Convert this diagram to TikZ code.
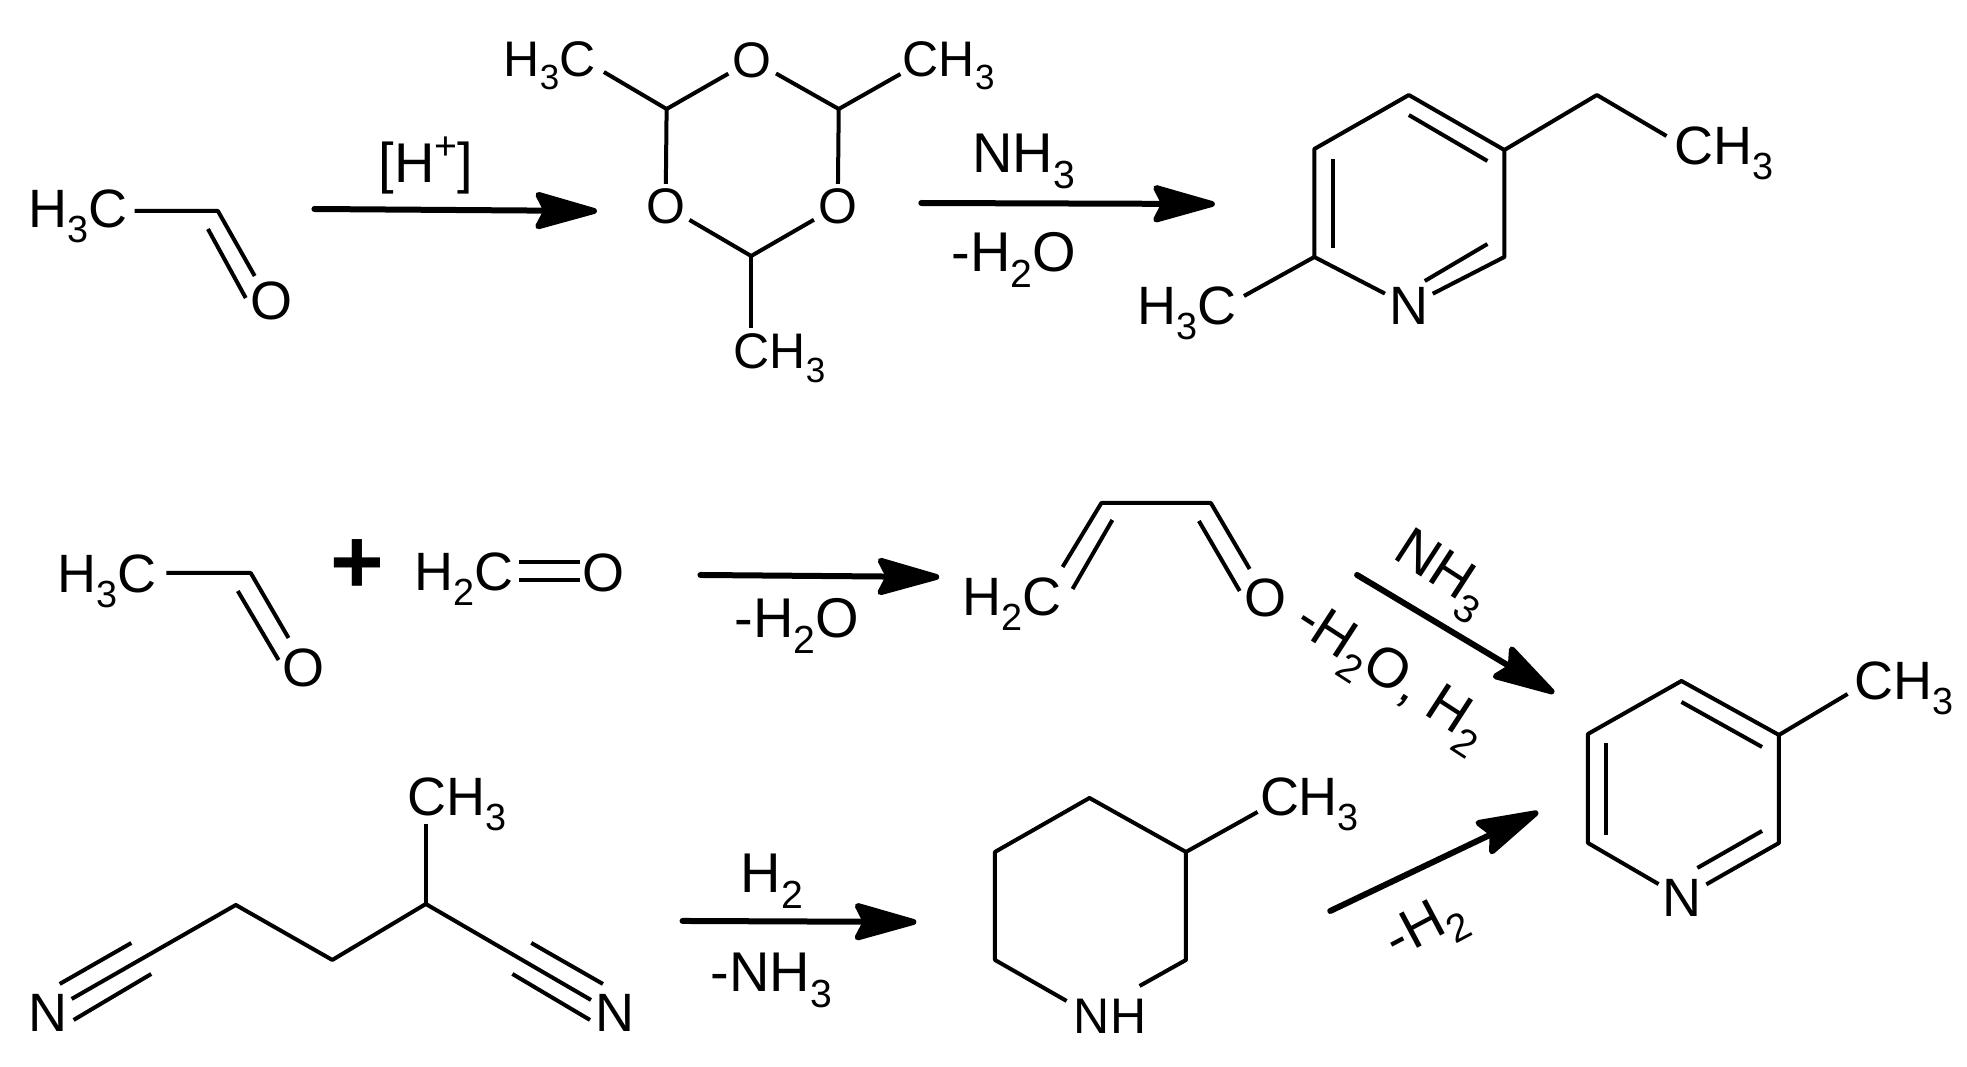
\documentclass[tikz,border=0pt]{standalone}
\usepackage{fontspec}
\setmainfont{Liberation Sans}
\usetikzlibrary{arrows.meta}
\newcommand{\dn}[1]{\raisebox{-0.27em}{\scalebox{0.7}{#1}}}
\newcommand{\up}[1]{\raisebox{0.42em}{\scalebox{0.7}{#1}}}
\tikzset{
	bond/.style={line width=2pt,line join=round},
	react/.style={line width=3pt,line cap=round,-{Stealth[length=36pt,width=20pt,inset=5pt,round]}},
	atom/.style={inner sep=2pt,font=\fontsize{27}{32}\selectfont},
	group/.style={inner sep=0pt,anchor=base west,font=\fontsize{27}{32}\selectfont},
	agent/.style={inner sep=0pt,anchor=base west,font=\fontsize{28}{34}\selectfont},
	tilted/.style={inner sep=0pt,font=\fontsize{28}{34}\selectfont},
	ring/.style={font=\fontsize{25}{30}\selectfont}
}
\begin{document}
\begin{tikzpicture}[x=0.4975pt,y=-0.5pt]
	\useasboundingbox (0,0) rectangle (1977,1067);
	% acetaldehyde, top row
	\node[group] (mea) at (28,228) {H\dn{3}C};
	\node[atom] (oa) at (273,301) {O};
	\coordinate (ca) at (219,211);
	\coordinate (oa1) at (256,276);
	\coordinate (oa2) at (209,229);
	\coordinate (oa3) at (247,298);
	\draw[bond] ([shift={(7,-17)}]mea.base east)--(ca)--(oa1);
	\draw[bond] (oa2)--(oa3);
	% paraldehyde
	\node[group,ring] (meb) at (506,76) {H\dn{3}C};
	\node[group,ring] (mec) at (907,76) {CH\dn{3}};
	\node[group,ring] (med) at (737,369) {CH\dn{3}};
	\node[atom,ring] (ob) at (756,60) {O};
	\node[atom,ring] (oc) at (669,206) {O};
	\node[atom,ring] (od) at (842,206) {O};
	\coordinate (cb) at (670,109);
	\coordinate (cc) at (843,109);
	\coordinate (cd) at (755,256);
	\draw[bond] ([shift={(8,-4)}]meb.base east)--(cb)--(ob)--(cc)--([shift={(-2,-2)}]mec.base west);
	\draw[bond] (cb)--(oc)--(cd)--(od)--(cc);
	\draw[bond] (cd)--([shift={(18,-41)}]med.base west);
	% 5-ethyl-2-methylpyridine
	\node[group] (mee) at (1143,325) {H\dn{3}C};
	\node[group] (mef) at (1683,165) {CH\dn{3}};
	\node[atom] (na) at (1416,306) {N};
	\coordinate (pa1) at (1416,95);
	\coordinate (pa2) at (1512,150);
	\coordinate (pa3) at (1512,257);
	\coordinate (pa4) at (1321,257);
	\coordinate (pa5) at (1321,149);
	\coordinate (ea) at (1605,95);
	\coordinate (ia1) at (1416,115);
	\coordinate (ia2) at (1495,161);
	\coordinate (ia3) at (1340,159);
	\coordinate (ia4) at (1340,248);
	\coordinate (ia5) at (1495,244);
	\coordinate (ia6) at (1432,281);
	\draw[bond] (na)--(pa4)--(pa5)--(pa1)--(pa2)--(pa3)--(na);
	\draw[bond] (pa2)--(ea)--([shift={(-8,-29)}]mef.base west);
	\draw[bond] (pa4)--([shift={(7,-29)}]mee.base east);
	\draw[bond] (ia1)--(ia2);
	\draw[bond] (ia3)--(ia4);
	\draw[bond] (ia5)--(ia6);
	% top row arrows
	\coordinate (r1a) at (316,209);
	\coordinate (r1b) at (600,211);
	\coordinate (r2a) at (926,203);
	\coordinate (r2b) at (1221,204);
	\draw[react] (r1a)--(r1b);
	\draw[react] (r2a)--(r2b);
	\node[agent] (ha) at (380,183) {[H\up{+}]};
	\node[agent] (aa) at (977,173) {NH\dn{3}};
	\node[agent] (ab) at (956,272) {-H\dn{2}O};
	% acetaldehyde + formaldehyde
	\node[group] (meg) at (57,593) {H\dn{3}C};
	\node[atom] (oe) at (305,668) {O};
	\coordinate (ce) at (252,573);
	\coordinate (oe1) at (290,638);
	\coordinate (oe2) at (239,591);
	\coordinate (oe3) at (280,660);
	\draw[bond] ([shift={(10,-20)}]meg.base east)--(ce)--(oe1);
	\draw[bond] (oe2)--(oe3);
	\node[inner sep=0pt,font=\fontsize{46}{50}\selectfont\bfseries] (plus) at (359,567) {+};
	\node[group] (mh) at (416,591) {H\dn{2}C};
	\node[atom] (of) at (607,573) {O};
	\coordinate (fa) at (522,562);
	\coordinate (fb) at (583,562);
	\coordinate (fc) at (522,580);
	\coordinate (fd) at (583,580);
	\draw[bond] (fa)--(fb);
	\draw[bond] (fc)--(fd);
	\coordinate (r3a) at (704,575);
	\coordinate (r3b) at (944,577);
	\draw[react] (r3a)--(r3b);
	\node[agent] (ac) at (738,638) {-H\dn{2}O};
	% acrolein
	\node[group] (mi) at (967,616) {H\dn{2}C};
	\node[atom] (og) at (1272,598) {O};
	\coordinate (ga) at (1107,503);
	\coordinate (gb) at (1217,503);
	\coordinate (g1) at (1068,567);
	\coordinate (g2) at (1118,520);
	\coordinate (g3) at (1078,589);
	\coordinate (g4) at (1256,569);
	\coordinate (g5) at (1205,521);
	\coordinate (g6) at (1246,591);
	\draw[bond] (g1)--(ga)--(gb)--(g4);
	\draw[bond] (g2)--(g3);
	\draw[bond] (g5)--(g6);
	\coordinate (r5a) at (1364,575);
	\coordinate (r5b) at (1562,693);
	\draw[react] (r5a)--(r5b);
	\node[tilted,rotate=-33] (ad) at (1448,576) {NH\dn{3}};
	\node[tilted,rotate=-33] (ae) at (1397,678) {-H\dn{2}O, H\dn{2}};
	% 2-methylglutaronitrile
	\node[group] (mj) at (409,816) {CH\dn{3}};
	\node[group] (nb) at (28,1032) {N};
	\node[group] (nc) at (598,1032) {N};
	\coordinate (h1) at (237,905);
	\coordinate (h2) at (334,960);
	\coordinate (h3) at (428,904);
	\coordinate (h4) at (72,999);
	\coordinate (h5) at (132,943);
	\coordinate (h6) at (60,984);
	\coordinate (h7) at (152,974);
	\coordinate (h8) at (74,1020);
	\coordinate (h9) at (594,1000);
	\coordinate (h10) at (534,943);
	\coordinate (h11) at (606,984);
	\coordinate (h12) at (515,974);
	\coordinate (h13) at (593,1020);
	\draw[bond] (h4)--(h1)--(h2)--(h3)--(h9);
	\draw[bond] (h3)--([shift={(19,8)}]mj.base west);
	\draw[bond] (h5)--(h6);
	\draw[bond] (h7)--(h8);
	\draw[bond] (h10)--(h11);
	\draw[bond] (h12)--(h13);
	\coordinate (r4a) at (686,921);
	\coordinate (r4b) at (921,922);
	\draw[react] (r4a)--(r4b);
	\node[agent] (af) at (744,893) {H\dn{2}};
	\node[agent] (ag) at (714,992) {-NH\dn{3}};
	% 3-methylpiperidine
	\node[group] (mk) at (1266,816) {CH\dn{3}};
	\node[group,ring] (nd) at (1079,1034) {NH};
	\coordinate (k1) at (1095,798);
	\coordinate (k2) at (1192,852);
	\coordinate (k3) at (1192,960);
	\coordinate (k4) at (1000,960);
	\coordinate (k5) at (1000,852);
	\draw[bond] ([shift={(-7,-33)}]nd.base west)--(k4)--(k5)--(k1)--(k2)--(k3)--([shift={(-7,-48)}]nd.base east);
	\draw[bond] (k2)--([shift={(-2,-4)}]mk.base west);
	\coordinate (r6a) at (1337,911);
	\coordinate (r6b) at (1546,812);
	\draw[react] (r6a)--(r6b);
	\node[tilted,rotate=28] (ah) at (1434,930) {-H\dn{2}};
	% 3-methylpyridine
	\node[group] (ml) at (1864,700) {CH\dn{3}};
	\node[atom] (ne) at (1691,898) {N};
	\coordinate (q1) at (1690,681);
	\coordinate (q2) at (1788,735);
	\coordinate (q3) at (1788,843);
	\coordinate (q4) at (1596,843);
	\coordinate (q5) at (1596,734);
	\coordinate (j1) at (1690,702);
	\coordinate (j2) at (1771,747);
	\coordinate (j3) at (1614,743);
	\coordinate (j4) at (1614,835);
	\coordinate (j5) at (1771,831);
	\coordinate (j6) at (1706,868);
	\draw[bond] (ne)--(q4)--(q5)--(q1)--(q2)--(q3)--(ne);
	\draw[bond] (q2)--([shift={(-7,-6)}]ml.base west);
	\draw[bond] (j1)--(j2);
	\draw[bond] (j3)--(j4);
	\draw[bond] (j5)--(j6);
\end{tikzpicture}
\end{document}
